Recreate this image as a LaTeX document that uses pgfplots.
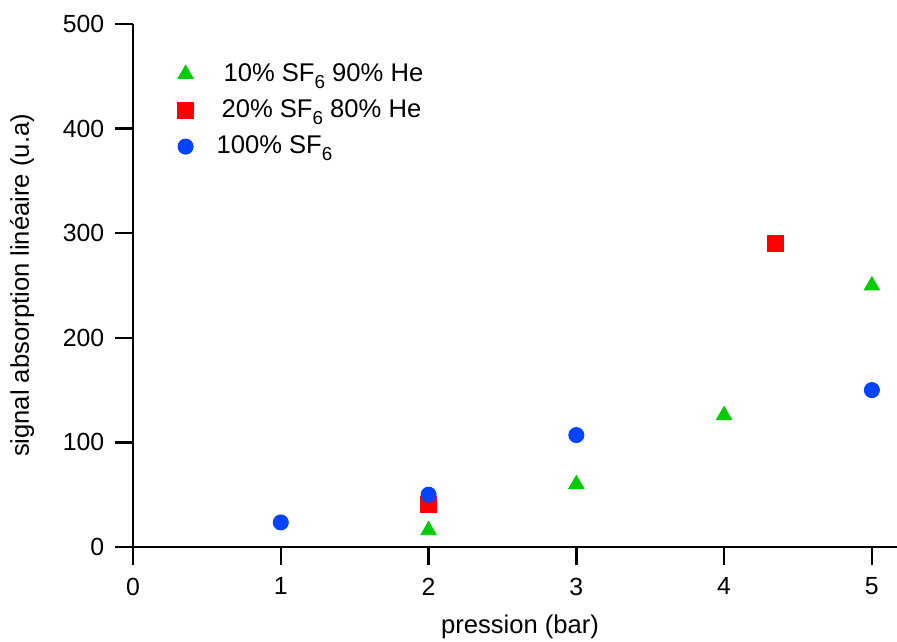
\documentclass[border=0pt]{standalone}
\usepackage{fontspec}
\setmainfont{Liberation Sans}
\usepackage{pgfplots}
\pgfplotsset{compat=1.18}
\usetikzlibrary{calc}
\definecolor{cgreen}{RGB}{0,204,0}
\definecolor{cred}{RGB}{255,0,0}
\definecolor{cblue}{RGB}{0,68,255}
\newcommand{\sub}[1]{\raisebox{-3.6pt}{\fontsize{9.4}{9.4}\selectfont #1}}
\begin{document}
\fontsize{12.6}{15}\selectfont
\begin{tikzpicture}
\begin{axis}[
  name=ax,
  scale only axis,
  width=382pt, height=261.5pt,
  xmin=0, xmax=5.17, ymin=0, ymax=500,
  axis lines=left,
  axis line style={-, line width=1.2pt, black},
  xtick={0,1,2,3,4,5},
  ytick={0,100,200,300,400,500},
  tick align=outside,
  major tick length=9pt,
  tick style={line width=1.2pt, black},
  /pgf/number format/assume math mode=true,
  tick label style={font=\fontsize{12.4}{15}\selectfont},
  xticklabel style={yshift=-2pt},
  yticklabel style={xshift=-1pt},
  every axis x label/.style={at={(rel axis cs:0.5,0)}, anchor=center, yshift=-40pt, xshift=2.5pt},
  every axis y label/.style={at={(rel axis cs:0,0.5)}, anchor=center, xshift=-55.5pt, rotate=90},
  xlabel={pression (bar)},
  ylabel={signal absorption linéaire (u.a)},
  label style={font=\fontsize{12.8}{15}\selectfont},
  legend style={at={(rel axis cs:0.050,0.941)}, anchor=north west, draw=none, fill=none,
    font=\fontsize{12.8}{15}\selectfont, row sep=3.3pt},
  legend cell align=left,
  clip=false,
]
\addplot[only marks, mark=triangle*, mark size=4.4pt, color=cgreen] coordinates {
  (2,16) (3,60) (4,126) (5,250)
};
\addlegendentry{\hspace{13pt}10\% SF\sub{6} 90\% He}
\addplot[only marks, mark=square*, mark size=4pt, color=cred] coordinates {
  (2,41) (4.35,290)
};
\addlegendentry{\hspace{12pt}20\% SF\sub{6} 80\% He}
\addplot[only marks, mark=*, mark size=3.8pt, color=cblue] coordinates {
  (1,23.5) (2,50) (3,107) (5,150)
};
\addlegendentry{\hspace{9.5pt}100\% SF\sub{6}}
\end{axis}
\pgfresetboundingbox
\path[use as bounding box] ($(ax.south west)+(-66.5pt,-47pt)$) rectangle ($(ax.north east)+(0,12pt)$);
\end{tikzpicture}
\end{document}
